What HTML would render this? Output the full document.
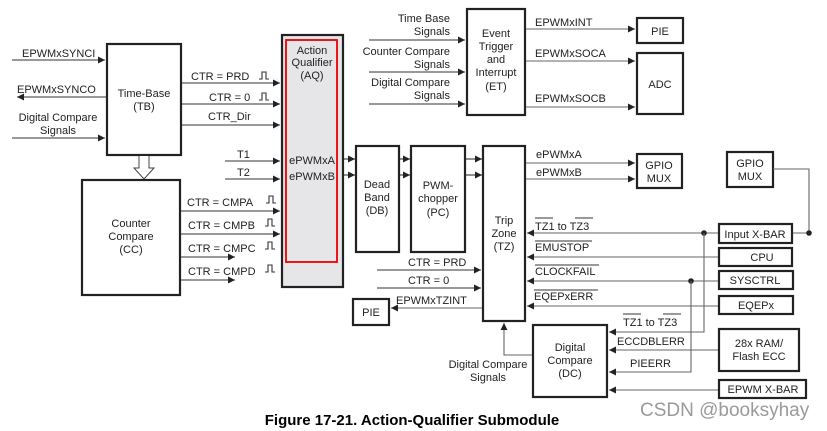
<!DOCTYPE html>
<html><head><meta charset="utf-8"><style>
html,body{margin:0;padding:0;background:#fff;}
svg{display:block;font-family:"Liberation Sans",Arial,sans-serif;}
text{font-size:11px;fill:#222;}
.b{fill:#fff;stroke:#222;stroke-width:2.2;}
.l{stroke:#333;stroke-width:1.1;fill:none;}
.g{stroke:#666;stroke-width:1.1;fill:none;}
.m{text-anchor:middle;}
.e{text-anchor:end;}
</style></head><body>
<svg width="827" height="431" viewBox="0 0 827 431" xmlns="http://www.w3.org/2000/svg">
<defs>
<marker id="a" markerWidth="8" markerHeight="8" refX="7" refY="4" orient="auto" markerUnits="userSpaceOnUse"><path d="M0,0.5 L7,4 L0,7.5 z" fill="#222"/></marker>
</defs>
<!-- Top ET section -->
<rect class="b" x="467" y="9" width="58" height="106"/>
<text class="m" x="496" y="37">Event</text><text class="m" x="496" y="50">Trigger</text><text class="m" x="496" y="63">and</text><text class="m" x="496" y="76">Interrupt</text><text class="m" x="496" y="90">(ET)</text>
<text class="e" x="450" y="22">Time Base</text><text class="e" x="450" y="35">Signals</text>
<text class="e" x="450" y="55">Counter Compare</text><text class="e" x="450" y="68">Signals</text>
<text class="e" x="450" y="86">Digital Compare</text><text class="e" x="450" y="99">Signals</text>
<line class="l" x1="369" y1="40" x2="465" y2="40" marker-end="url(#a)"/>
<line class="l" x1="369" y1="72" x2="465" y2="72" marker-end="url(#a)"/>
<line class="l" x1="369" y1="104" x2="465" y2="104" marker-end="url(#a)"/>
<rect class="b" x="637" y="18" width="46" height="25"/><text class="m" x="660" y="35">PIE</text>
<rect class="b" x="637" y="53" width="46" height="61"/><text class="m" x="660" y="88">ADC</text>
<text x="535" y="26">EPWMxINT</text><line class="g" x1="526" y1="29" x2="635" y2="29" marker-end="url(#a)"/>
<text x="535" y="57">EPWMxSOCA</text><line class="g" x1="526" y1="61" x2="635" y2="61" marker-end="url(#a)"/>
<text x="535" y="102">EPWMxSOCB</text><line class="g" x1="526" y1="107" x2="635" y2="107" marker-end="url(#a)"/>
<!-- TB -->
<rect class="b" x="107" y="44" width="74" height="111"/>
<text class="m" x="144" y="97">Time-Base</text><text class="m" x="144" y="110">(TB)</text>
<text x="22" y="57">EPWMxSYNCI</text><line class="l" x1="12" y1="60" x2="105" y2="60" marker-end="url(#a)"/>
<text x="17" y="93">EPWMxSYNCO</text><line class="l" x1="106" y1="97" x2="17" y2="97" marker-end="url(#a)"/>
<text class="m" x="58" y="121">Digital Compare</text><text class="m" x="58" y="134">Signals</text>
<line class="l" x1="12" y1="138" x2="105" y2="138" marker-end="url(#a)"/>
<text x="191" y="80">CTR = PRD</text><text x="209" y="101">CTR = 0</text><text x="208" y="120">CTR_Dir</text>
<path class="l" d="M259,79 h3 v-7 h4 v7 h3"/><path class="l" d="M259,100 h3 v-7 h4 v7 h3"/>
<line class="l" x1="182" y1="83" x2="280" y2="83" marker-end="url(#a)"/>
<line class="l" x1="182" y1="104" x2="280" y2="104" marker-end="url(#a)"/>
<line class="l" x1="182" y1="125" x2="280" y2="125" marker-end="url(#a)"/>
<!-- hollow arrow -->
<path d="M139,156 v12 h-5 l10,11 l10,-11 h-5 v-12" fill="#fff" stroke="#444" stroke-width="1"/>
<!-- CC -->
<rect class="b" x="82" y="180" width="98" height="115"/>
<text class="m" x="131" y="227">Counter</text><text class="m" x="131" y="240">Compare</text><text class="m" x="131" y="253">(CC)</text>
<text x="187" y="206">CTR = CMPA</text><text x="188" y="229">CTR = CMPB</text><text x="188" y="252">CTR = CMPC</text><text x="188" y="275">CTR = CMPD</text>
<path class="l" d="M266,203 h3 v-7 h4 v7 h3"/><path class="l" d="M265,226 h3 v-7 h4 v7 h3"/><path class="l" d="M265,249 h3 v-7 h4 v7 h3"/><path class="l" d="M265,272 h3 v-7 h4 v7 h3"/>
<line class="l" x1="181" y1="211" x2="280" y2="211" marker-end="url(#a)"/>
<line class="l" x1="181" y1="234" x2="280" y2="234" marker-end="url(#a)"/>
<line class="l" x1="181" y1="257" x2="235" y2="257" marker-end="url(#a)"/>
<line class="l" x1="181" y1="280" x2="235" y2="280" marker-end="url(#a)"/>
<!-- AQ -->
<rect x="282" y="35" width="61" height="252" fill="#e6e6e8" stroke="#222" stroke-width="2.2"/>
<rect x="286" y="40" width="51" height="222" fill="none" stroke="#e00" stroke-width="1.8"/>
<text class="m" x="312" y="54">Action</text><text class="m" x="312" y="66">Qualifier</text><text class="m" x="312" y="79">(AQ)</text>
<text class="m" x="312" y="164">ePWMxA</text><text class="m" x="312" y="180">ePWMxB</text>
<text x="237" y="158">T1</text><text x="237" y="176">T2</text>
<line class="l" x1="225" y1="161" x2="280" y2="161" marker-end="url(#a)"/>
<line class="l" x1="225" y1="179" x2="280" y2="179" marker-end="url(#a)"/>
<!-- DB PC TZ -->
<rect class="b" x="356" y="146" width="43" height="106"/>
<text class="m" x="377" y="188">Dead</text><text class="m" x="377" y="201">Band</text><text class="m" x="377" y="214">(DB)</text>
<rect class="b" x="411" y="146" width="54" height="106"/>
<text class="m" x="438" y="189">PWM-</text><text class="m" x="438" y="202">chopper</text><text class="m" x="438" y="216">(PC)</text>
<rect class="b" x="483" y="146" width="42" height="175"/>
<text class="m" x="504" y="224">Trip</text><text class="m" x="504" y="237">Zone</text><text class="m" x="504" y="250">(TZ)</text>
<line class="l" x1="344" y1="159" x2="355" y2="159" marker-end="url(#a)"/>
<line class="l" x1="344" y1="175" x2="355" y2="175" marker-end="url(#a)"/>
<line class="l" x1="400" y1="159" x2="410" y2="159" marker-end="url(#a)"/>
<line class="l" x1="400" y1="175" x2="410" y2="175" marker-end="url(#a)"/>
<line class="l" x1="466" y1="159" x2="482" y2="159" marker-end="url(#a)"/>
<line class="l" x1="466" y1="175" x2="482" y2="175" marker-end="url(#a)"/>
<text x="536" y="158">ePWMxA</text><text x="536" y="176">ePWMxB</text>
<line class="g" x1="526" y1="163" x2="635" y2="163" marker-end="url(#a)"/>
<line class="g" x1="526" y1="179" x2="635" y2="179" marker-end="url(#a)"/>
<rect class="b" x="637" y="154" width="45" height="34"/><text class="m" x="659" y="169">GPIO</text><text class="m" x="659" y="182">MUX</text>
<rect class="b" x="727" y="152" width="46" height="35"/><text class="m" x="750" y="167">GPIO</text><text class="m" x="750" y="180">MUX</text>
<path class="g" d="M773,169 H809 V233 H792"/>
<circle cx="809" cy="233" r="2.8" fill="#222"/>
<!-- right inputs -->
<rect class="b" x="719" y="224" width="73" height="19"/><text class="m" x="755" y="238">Input X-BAR</text>
<rect class="b" x="719" y="248" width="73" height="18"/><text class="m" x="762" y="261">CPU</text>
<rect class="b" x="719" y="271" width="74" height="18"/><text class="m" x="755" y="284">SYSCTRL</text>
<rect class="b" x="719" y="296" width="74" height="18"/><text class="m" x="756" y="309">EQEPx</text>
<line class="g" x1="718" y1="233" x2="527" y2="233" marker-end="url(#a)"/>
<line class="g" x1="718" y1="257" x2="527" y2="257" marker-end="url(#a)"/>
<line class="g" x1="718" y1="281" x2="527" y2="281" marker-end="url(#a)"/>
<line class="g" x1="718" y1="306" x2="527" y2="306" marker-end="url(#a)"/>
<circle cx="704" cy="233" r="2.8" fill="#222"/><circle cx="691" cy="281" r="2.8" fill="#222"/>
<text x="535" y="230">TZ1 to TZ3</text><line class="l" x1="535" y1="218" x2="553" y2="218"/><line class="l" x1="575" y1="218" x2="593" y2="218"/>
<text x="535" y="251">EMUSTOP</text><line class="l" x1="535" y1="241" x2="592" y2="241"/>
<text x="535" y="275">CLOCKFAIL</text><line class="l" x1="535" y1="265" x2="599" y2="265"/>
<text x="534" y="300">EQEPxERR</text><line class="l" x1="534" y1="290" x2="598" y2="290"/>
<!-- CTR to TZ -->
<text x="408" y="266">CTR = PRD</text><text x="408" y="284">CTR = 0</text>
<line class="l" x1="377" y1="270" x2="481" y2="270" marker-end="url(#a)"/>
<line class="l" x1="377" y1="288" x2="481" y2="288" marker-end="url(#a)"/>
<text x="396" y="304">EPWMxTZINT</text>
<line class="g" x1="482" y1="308" x2="391" y2="308" marker-end="url(#a)"/>
<rect class="b" x="353" y="299" width="36" height="26"/><text class="m" x="371" y="316">PIE</text>
<!-- DC -->
<rect class="b" x="533" y="325" width="74" height="72"/>
<text class="m" x="570" y="351">Digital</text><text class="m" x="570" y="364">Compare</text><text class="m" x="570" y="377">(DC)</text>
<path class="g" d="M532,355 H504 V323" marker-end="url(#a)"/>
<text class="m" x="488" y="368">Digital Compare</text><text class="m" x="488" y="381">Signals</text>
<path class="g" d="M704,233 V332 H609" marker-end="url(#a)"/>
<path class="g" d="M691,281 V372 H609" marker-end="url(#a)"/>
<line class="g" x1="718" y1="350" x2="609" y2="350" marker-end="url(#a)"/>
<line class="g" x1="718" y1="390" x2="609" y2="390" marker-end="url(#a)"/>
<text x="623" y="326">TZ1 to TZ3</text><line class="l" x1="623" y1="314" x2="641" y2="314"/><line class="l" x1="663" y1="314" x2="681" y2="314"/>
<text x="617" y="345">ECCDBLERR</text>
<text x="630" y="367">PIEERR</text>
<rect class="b" x="719" y="329" width="80" height="42"/><text class="m" x="759" y="347">28x RAM/</text><text class="m" x="759" y="360">Flash ECC</text>
<rect class="b" x="719" y="380" width="87" height="18"/><text class="m" x="763" y="393">EPWM X-BAR</text>
<!-- caption -->
<text class="m" x="412" y="425" style="font-size:15px;font-weight:bold;fill:#000">Figure 17-21. Action-Qualifier Submodule</text>
<text x="640" y="416" style="font-size:19px;fill:#9a9a9a">CSDN @booksyhay</text>
</svg>
</body></html>
